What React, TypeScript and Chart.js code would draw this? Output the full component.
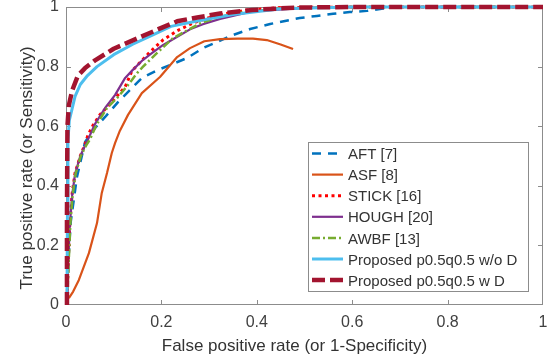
import React, { useEffect, useRef } from "react";
import { Chart, registerables } from "chart.js";

Chart.register(...registerables);

// ---- Data ----
const seriesNames = [
  "AFT [7]",
  "ASF [8]",
  "STICK [16]",
  "HOUGH [20]",
  "AWBF [13]",
  "Proposed p0.5q0.5 w/o D",
  "Proposed p0.5q0.5 w D",
];

const aftX = [0.002, 0.005, 0.01, 0.023, 0.04, 0.061, 0.082, 0.109, 0.134, 0.159, 0.19, 0.218, 0.254, 0.287, 0.35, 0.386, 0.428, 0.49, 0.526, 0.56, 0.595, 0.631, 0.665, 0.7, 1];
const aftY = [0, 0.15, 0.28, 0.43, 0.547, 0.594, 0.631, 0.681, 0.721, 0.762, 0.787, 0.805, 0.829, 0.862, 0.906, 0.926, 0.943, 0.963, 0.97, 0.977, 0.983, 0.987, 0.995, 1, 1];

const asfX = [0.006, 0.015, 0.027, 0.048, 0.065, 0.075, 0.086, 0.096, 0.103, 0.113, 0.13, 0.159, 0.197, 0.233, 0.26, 0.29, 0.323, 0.36, 0.392, 0.421, 0.45, 0.476];
const asfY = [0.023, 0.045, 0.084, 0.174, 0.275, 0.376, 0.443, 0.51, 0.544, 0.585, 0.638, 0.711, 0.765, 0.832, 0.862, 0.885, 0.892, 0.894, 0.894, 0.889, 0.874, 0.859];

const stickX = [0.002, 0.004, 0.008, 0.013, 0.019, 0.03, 0.04, 0.046, 0.057, 0.071, 0.096, 0.124, 0.138, 0.176, 0.203, 0.233, 0.266, 0.317, 0.38, 0.45, 0.6, 1];
const stickY = [0, 0.12, 0.275, 0.376, 0.443, 0.5, 0.54, 0.57, 0.604, 0.638, 0.681, 0.732, 0.785, 0.849, 0.889, 0.92, 0.946, 0.973, 0.99, 0.998, 1, 1];

const houghX = [0.002, 0.004, 0.008, 0.013, 0.019, 0.03, 0.04, 0.046, 0.06, 0.082, 0.103, 0.124, 0.14, 0.161, 0.18, 0.203, 0.218, 0.26, 0.287, 0.323, 0.39, 0.5, 0.6, 1];
const houghY = [0, 0.12, 0.27, 0.37, 0.44, 0.5, 0.535, 0.555, 0.605, 0.661, 0.705, 0.762, 0.789, 0.822, 0.845, 0.872, 0.886, 0.925, 0.942, 0.96, 0.985, 0.997, 1, 1];

const awbfX = [0.002, 0.005, 0.009, 0.014, 0.02, 0.031, 0.042, 0.05, 0.064, 0.086, 0.109, 0.13, 0.149, 0.161, 0.191, 0.224, 0.25, 0.281, 0.308, 0.35, 0.45, 0.6, 1];
const awbfY = [0, 0.12, 0.27, 0.37, 0.44, 0.5, 0.535, 0.555, 0.605, 0.661, 0.698, 0.738, 0.778, 0.799, 0.846, 0.895, 0.918, 0.945, 0.96, 0.978, 0.996, 1, 1];

const pwoX = [0.002, 0.003, 0.004, 0.007, 0.013, 0.019, 0.03, 0.045, 0.065, 0.1, 0.14, 0.18, 0.22, 0.28, 0.35, 0.45, 0.6, 1];
const pwoY = [0, 0.3, 0.55, 0.62, 0.66, 0.7, 0.74, 0.77, 0.8, 0.84, 0.875, 0.905, 0.935, 0.955, 0.975, 0.994, 1, 1];

const pwdX = [0.002, 0.002, 0.003, 0.006, 0.013, 0.025, 0.04, 0.06, 0.1, 0.15, 0.2, 0.233, 0.275, 0.323, 0.39, 0.48, 0.6, 1];
const pwdY = [0, 0.3, 0.6, 0.67, 0.72, 0.77, 0.795, 0.82, 0.86, 0.895, 0.93, 0.952, 0.965, 0.978, 0.99, 0.998, 1, 1];

const xTickValues = [0, 0.2, 0.4, 0.6, 0.8, 1];
const yTickValues = [0, 0.2, 0.4, 0.6, 0.8, 1];

const xTitle = "False positive rate (or 1-Specificity)";
const yTitle = "True positive rate (or Sensitivity)";

const seriesX = [aftX, asfX, stickX, houghX, awbfX, pwoX, pwdX];
const seriesY = [aftY, asfY, stickY, houghY, awbfY, pwoY, pwdY];

// ---- Styles ----
const seriesStyles = [
  { color: "#0072BD", width: 2.5, dash: [9, 7] },
  { color: "#D95319", width: 2.2, dash: [] as number[] },
  { color: "#FF0000", width: 3, dash: [3, 3.5] },
  { color: "#7E2F8E", width: 2.2, dash: [] as number[] },
  { color: "#77AC30", width: 2.5, dash: [8, 3, 2, 3] },
  { color: "#4DBEEE", width: 3, dash: [] as number[] },
  { color: "#A2142F", width: 4.5, dash: [13, 5] },
];

const FONT = "'Liberation Sans', Arial, Helvetica, sans-serif";
const TEXT = "#333333";
const AXIS = "#8c8c8c";

const framePlugin = {
  id: "matlabFrame",
  beforeDatasetsDraw(chart: any) {
    const { ctx, chartArea: a, scales } = chart;
    ctx.save();
    ctx.strokeStyle = AXIS;
    ctx.lineWidth = 1;
    ctx.strokeRect(Math.round(a.left) + 0.5, Math.round(a.top) + 0.5, Math.round(a.right - a.left) - 1, Math.round(a.bottom - a.top) - 1);
    const tl = 5;
    ctx.beginPath();
    xTickValues.forEach((v) => {
      if (v === 0 || v === 1) return;
      const px = Math.round(scales.x.getPixelForValue(v)) + 0.5;
      ctx.moveTo(px, a.bottom);
      ctx.lineTo(px, a.bottom - tl);
      ctx.moveTo(px, a.top);
      ctx.lineTo(px, a.top + tl);
    });
    yTickValues.forEach((v) => {
      if (v === 0 || v === 1) return;
      const py = Math.round(scales.y.getPixelForValue(v)) + 0.5;
      ctx.moveTo(a.left, py);
      ctx.lineTo(a.left + tl, py);
      ctx.moveTo(a.right, py);
      ctx.lineTo(a.right - tl, py);
    });
    ctx.stroke();

    // Axis titles (placed like the MATLAB export, slightly toward the origin)
    ctx.fillStyle = TEXT;
    ctx.font = `17px ${FONT}`;
    ctx.textAlign = "center";
    ctx.textBaseline = "middle";
    ctx.fillText(xTitle, 294.5, 346);
    ctx.translate(27, 168);
    ctx.rotate(-Math.PI / 2);
    ctx.fillText(yTitle, 0, 0);
    ctx.restore();
  },
};

const legendPlugin = {
  id: "matlabLegend",
  afterDraw(chart: any) {
    const { ctx } = chart;
    const boxL = 308, boxT = 142, boxR = 529, boxB = 292;
    ctx.save();
    ctx.fillStyle = "#ffffff";
    ctx.fillRect(boxL, boxT, boxR - boxL, boxB - boxT);
    ctx.strokeStyle = AXIS;
    ctx.lineWidth = 1;
    ctx.strokeRect(boxL + 0.5, boxT + 0.5, boxR - boxL - 1, boxB - boxT - 1);
    ctx.font = `15px ${FONT}`;
    ctx.textBaseline = "middle";
    ctx.textAlign = "left";
    seriesNames.forEach((name, i) => {
      const st = seriesStyles[i];
      const y = 153.5 + i * 21.1;
      ctx.beginPath();
      ctx.strokeStyle = st.color;
      ctx.lineWidth = st.width;
      ctx.setLineDash(st.dash);
      ctx.lineCap = "butt";
      ctx.moveTo(312, y);
      ctx.lineTo(343, y);
      ctx.stroke();
      ctx.setLineDash([]);
      ctx.fillStyle = TEXT;
      ctx.fillText(name, 348, y + 1.5);
    });
    ctx.restore();
  },
};

export default function App() {
  const ref = useRef<HTMLCanvasElement | null>(null);

  useEffect(() => {
    document.body.style.margin = "0";
    const canvas = ref.current;
    if (!canvas) return;

    const datasets = seriesNames.map((name, i) => ({
      label: name,
      data: seriesX[i].map((x, j) => ({ x, y: seriesY[i][j] })),
      borderColor: seriesStyles[i].color,
      backgroundColor: seriesStyles[i].color,
      borderWidth: seriesStyles[i].width,
      borderDash: seriesStyles[i].dash,
      borderCapStyle: "butt",
      borderJoinStyle: "round",
      pointRadius: 0,
      pointHoverRadius: 0,
      fill: false,
      tension: 0,
      clip: false,
      order: seriesNames.length - i,
    }));

    const chart = new Chart(canvas, {
      type: "line",
      data: { datasets } as any,
      options: {
        responsive: false,
        animation: false,
        devicePixelRatio: 1,
        parsing: false,
        layout: { padding: { top: 7, right: 10, left: 0, bottom: 0 } },
        plugins: {
          legend: { display: false },
          tooltip: { enabled: false },
        },
        scales: {
          x: {
            type: "linear",
            min: 0,
            max: 1,
            grid: { display: false, drawTicks: false, tickLength: 0 },
            border: { display: false },
            afterBuildTicks: (s: any) => {
              s.ticks = xTickValues.map((v) => ({ value: v }));
            },
            afterFit: (s: any) => {
              s.height = 55;
              s.paddingLeft = 0;
              s.paddingRight = 0;
            },
            ticks: {
              color: "#404040",
              font: { family: FONT, size: 16 },
              padding: 8,
              maxRotation: 0,
              autoSkip: false,
              callback: (v: any) => String(Math.round(Number(v) * 10) / 10),
            },
            title: { display: false },
          },
          y: {
            type: "linear",
            min: 0,
            max: 1,
            grid: { display: false, drawTicks: false, tickLength: 0 },
            border: { display: false },
            afterBuildTicks: (s: any) => {
              s.ticks = yTickValues.map((v) => ({ value: v }));
            },
            afterFit: (s: any) => {
              s.width = 66;
              s.paddingTop = 0;
              s.paddingBottom = 0;
            },
            ticks: {
              color: "#404040",
              font: { family: FONT, size: 16 },
              padding: 7,
              autoSkip: false,
              callback: (v: any) => String(Math.round(Number(v) * 10) / 10),
            },
            title: { display: false },
          },
        },
      },
      plugins: [framePlugin, legendPlugin],
    });

    return () => chart.destroy();
  }, []);

  return (
    <div style={{ width: 553, height: 360 }}>
      <canvas ref={ref} width={553} height={360} style={{ display: "block" }} />
    </div>
  );
}
